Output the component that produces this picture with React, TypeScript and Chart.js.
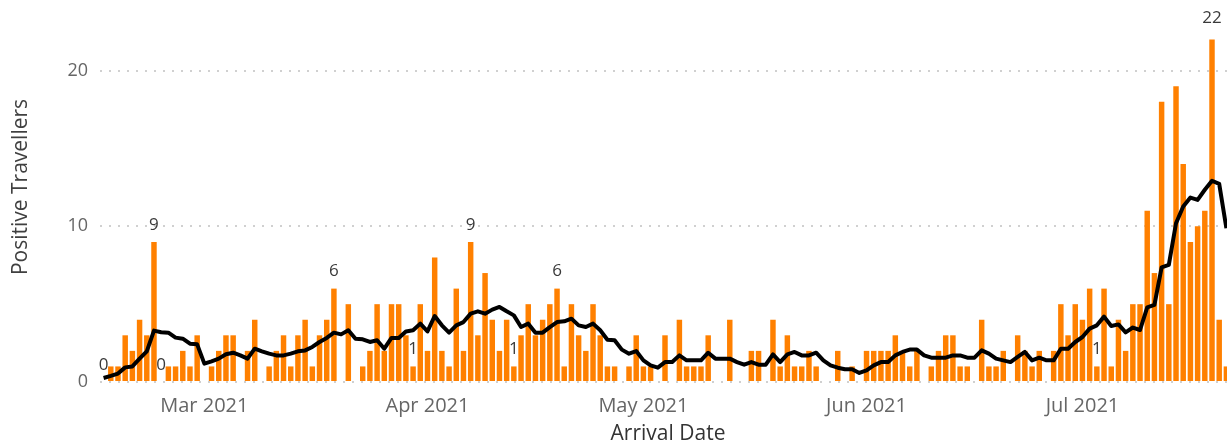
import React, { useEffect, useRef } from 'react';
import { Chart, registerables } from 'chart.js';

Chart.register(...registerables);

// First arrival date shown (2021-02-15); one category per day
const START_YEAR = 2021;
const START_MONTH = 1; // February (0-based)
const START_DAY = 15;

const MONTH_NAMES = ['Jan', 'Feb', 'Mar', 'Apr', 'May', 'Jun', 'Jul', 'Aug', 'Sep', 'Oct', 'Nov', 'Dec'];

// Daily positive travellers (bars)
const positiveTravellers = [
  0, 1, 1, 3, 2, 4, 3, 9, 0, 1, 1, 2, 1, 3, 0, 1, 2, 3, 3, 0,
  2, 4, 0, 1, 2, 3, 1, 3, 4, 1, 3, 4, 6, 0, 5, 0, 1, 2, 5, 2,
  5, 5, 3, 1, 5, 2, 8, 2, 1, 6, 2, 9, 3, 7, 4, 2, 4, 1, 3, 5,
  3, 4, 5, 6, 1, 5, 3, 2, 5, 3, 1, 1, 0, 1, 3, 1, 1, 0, 3, 0,
  4, 1, 1, 1, 3, 0, 0, 4, 0, 0, 2, 2, 0, 4, 1, 3, 1, 1, 2, 1,
  0, 0, 2, 0, 1, 0, 2, 2, 2, 2, 3, 2, 1, 2, 0, 1, 2, 3, 3, 1,
  1, 0, 4, 1, 1, 2, 0, 3, 2, 1, 2, 0, 2, 5, 3, 5, 4, 6, 1, 6,
  1, 4, 2, 5, 5, 11, 7, 18, 5, 19, 14, 9, 10, 11, 22, 4, 1,
];

// Rolling average line (black)
const rollingAverage = [
  0.26, 0.39, 0.54, 0.94, 1.0, 1.5, 1.97, 3.3, 3.2, 3.17, 2.85, 2.78, 2.46, 2.42, 1.18, 1.33, 1.5, 1.78, 1.88, 1.71,
  1.5, 2.14, 1.97, 1.82, 1.71, 1.71, 1.82, 1.97, 2.03, 2.25, 2.57, 2.83, 3.17, 3.06, 3.32, 2.78, 2.74, 2.57, 2.68, 2.14,
  2.83, 2.83, 3.25, 3.32, 3.75, 3.25, 4.24, 3.64, 3.17, 3.64, 3.85, 4.39, 4.54, 4.39, 4.65, 4.82, 4.54, 4.28, 3.53, 3.75,
  3.17, 3.17, 3.53, 3.85, 3.9, 4.07, 3.64, 3.53, 3.75, 3.32, 2.72, 2.68, 2.08, 1.82, 1.99, 1.39, 1.07, 0.92, 1.28, 1.28,
  1.71, 1.39, 1.39, 1.39, 1.88, 1.5, 1.5, 1.5, 1.28, 1.11, 1.28, 1.11, 1.11, 1.78, 1.28, 1.78, 1.93, 1.71, 1.71, 1.88,
  1.39, 1.07, 0.92, 0.82, 0.82, 0.58, 0.75, 1.07, 1.28, 1.28, 1.71, 1.93, 2.08, 2.08, 1.71, 1.56, 1.56, 1.56, 1.71, 1.71,
  1.56, 1.56, 2.03, 1.82, 1.5, 1.39, 1.28, 1.61, 1.93, 1.39, 1.56, 1.39, 1.39, 2.14, 2.14, 2.57, 2.89, 3.43, 3.64, 4.2,
  3.6, 3.7, 3.19, 3.5, 3.34, 4.8, 4.95, 7.37, 7.52, 10.2, 11.28, 11.85, 11.7, 12.35, 12.93, 12.73, 9.88,
];

// Bars that carry a data label
const labelledDays = [0, 7, 8, 32, 43, 51, 57, 63, 138, 154];

const yTickValues = [0, 10, 20];
const Y_MAX = 23;

const X_TITLE = 'Arrival Date';
const Y_TITLE = 'Positive Travellers';

const FONT = '"Open Sans", "Noto Sans", sans-serif';

function buildDates(n: number): Date[] {
  const out: Date[] = [];
  for (let i = 0; i < n; i++) out.push(new Date(START_YEAR, START_MONTH, START_DAY + i));
  return out;
}

const dates = buildDates(positiveTravellers.length);
const categories = dates.map((d) => `${d.getFullYear()}-${String(d.getMonth() + 1).padStart(2, '0')}-${String(d.getDate()).padStart(2, '0')}`);

const dataLabelPlugin = {
  id: 'dataLabels',
  afterDatasetsDraw(chart: any) {
    const meta = chart.getDatasetMeta(1);
    const ctx = chart.ctx;
    ctx.save();
    ctx.font = `17px ${FONT}`;
    ctx.fillStyle = '#3a3a3a';
    ctx.textAlign = 'center';
    ctx.textBaseline = 'middle';
    labelledDays.forEach((i) => {
      const el = meta.data[i];
      if (!el) return;
      const off = positiveTravellers[i] >= 20 ? 21 : 17;
      ctx.fillText(String(positiveTravellers[i]), el.x, el.y - off);
    });
    ctx.restore();
  },
};

const axisTitlePlugin = {
  id: 'axisTitles',
  afterDraw(chart: any) {
    const ctx = chart.ctx;
    ctx.save();
    ctx.font = `21px ${FONT}`;
    ctx.fillStyle = '#333333';
    ctx.textAlign = 'center';
    ctx.textBaseline = 'middle';
    ctx.fillText(X_TITLE, 668, 434);
    ctx.translate(21, 187);
    ctx.rotate(-Math.PI / 2);
    ctx.fillStyle = '#404040';
    ctx.fillText(Y_TITLE, 0, 0);
    ctx.restore();
  },
};

export default function App() {
  const canvasRef = useRef<HTMLCanvasElement | null>(null);

  useEffect(() => {
    document.body.style.margin = '0';
    const canvas = canvasRef.current;
    if (!canvas) return;
    const chart = new Chart(canvas, {
      type: 'bar',
      data: {
        labels: categories,
        datasets: [
          {
            type: 'line',
            label: 'Rolling average',
            data: rollingAverage,
            borderColor: '#000000',
            borderWidth: 4,
            pointRadius: 0,
            pointHoverRadius: 0,
            tension: 0,
            fill: false,
            order: 0,
            borderJoinStyle: 'round',
          } as any,
          {
            type: 'bar',
            label: 'Positive Travellers',
            data: positiveTravellers,
            backgroundColor: '#FF8000',
            barPercentage: 0.76,
            categoryPercentage: 1,
            order: 1,
          },
        ],
      },
      options: {
        animation: false,
        responsive: false,
        devicePixelRatio: 1,
        layout: { autoPadding: false, padding: { top: 24, left: 0, right: 0, bottom: 0 } },
        plugins: {
          legend: { display: false },
          tooltip: { enabled: false },
        },
        scales: {
          x: {
            offset: true,
            grid: { display: false, drawTicks: false },
            border: { display: false },
            ticks: {
              autoSkip: false,
              maxRotation: 0,
              minRotation: 0,
              padding: 12,
              color: '#666666',
              font: { family: FONT, size: 20 },
              callback: (_v: any, index: number) => {
                const d = dates[index];
                return d && d.getDate() === 1 ? `${MONTH_NAMES[d.getMonth()]} ${d.getFullYear()}` : '';
              },
            },
            afterFit: (scale: any) => {
              scale.height = 64;
              scale.paddingLeft = 0;
              scale.paddingRight = 0;
            },
          },
          y: {
            min: 0,
            max: Y_MAX,
            grid: { color: '#d0d0d0', lineWidth: 2, drawTicks: false },
            border: { display: false, dash: [2, 7] },
            ticks: {
              padding: 12,
              color: '#666666',
              font: { family: FONT, size: 18 },
            },
            afterBuildTicks: (scale: any) => {
              scale.ticks = yTickValues.map((v) => ({ value: v }));
            },
            afterFit: (scale: any) => {
              scale.width = 100;
            },
          },
        },
      },
      plugins: [dataLabelPlugin, axisTitlePlugin],
    });
    return () => chart.destroy();
  }, []);

  return (
    <div style={{ position: 'fixed', left: 0, top: 0, width: 1227, height: 446, overflow: 'hidden', background: '#ffffff' }}>
      <canvas ref={canvasRef} width={1230} height={446} style={{ display: 'block', width: 1230, height: 446 }} />
    </div>
  );
}
